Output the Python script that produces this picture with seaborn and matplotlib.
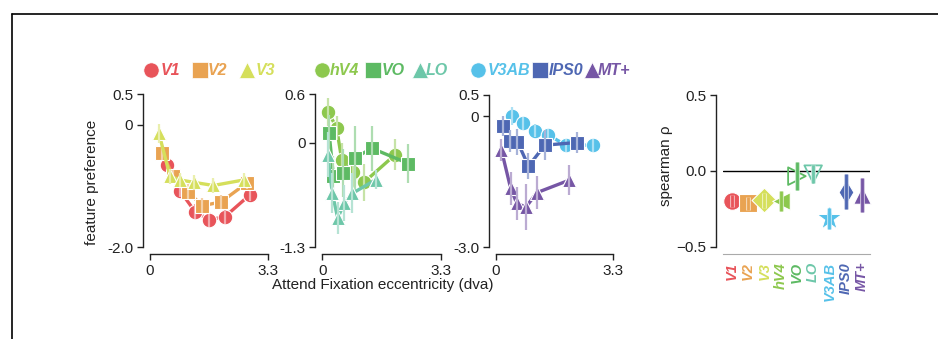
import numpy as np
import pandas as pd
import matplotlib
matplotlib.use("Agg")
import matplotlib.pyplot as plt
import matplotlib.patheffects as pe
import matplotlib.colors as mcolors
import seaborn as sns

# ---------------- data ----------------
colors = {"V1": "#E8545A", "V2": "#E9A352", "V3": "#D5DF5B",
          "hV4": "#8DC84E", "VO": "#5DBA63", "LO": "#6DC7A9",
          "V3AB": "#56C1E9", "IPS0": "#4E67B3", "MT+": "#7656A5"}

# panel 1
V1_x = [0.47, 0.84, 1.26, 1.65, 2.09, 2.79]
V1_y = [-0.65, -1.08, -1.42, -1.55, -1.50, -1.14]
V1_e = [0.08, 0.10, 0.12, 0.12, 0.12, 0.10]
V2_x = [0.34, 0.65, 1.05, 1.46, 1.98, 2.70]
V2_y = [-0.46, -0.84, -1.09, -1.32, -1.26, -0.95]
V2_e = [0.12, 0.10, 0.12, 0.12, 0.12, 0.10]
V3_x = [0.25, 0.56, 0.84, 1.24, 1.77, 2.61]
V3_y = [-0.14, -0.84, -0.90, -0.94, -0.99, -0.90]
V3_e = [0.15, 0.12, 0.12, 0.12, 0.12, 0.12]

# panel 2
hV4_x = [0.17, 0.40, 0.54, 0.86, 1.17, 2.03]
hV4_y = [0.38, 0.18, -0.21, -0.37, -0.49, -0.15]
hV4_e = [0.18, 0.15, 0.20, 0.20, 0.23, 0.19]
VO_x = [0.19, 0.31, 0.59, 0.91, 1.38, 2.40]
VO_y = [0.12, -0.42, -0.38, -0.19, -0.07, -0.26]
VO_e = [0.22, 0.25, 0.30, 0.40, 0.28, 0.24]
LO_x = [0.15, 0.28, 0.43, 0.61, 0.84, 1.49]
LO_y = [-0.15, -0.63, -0.94, -0.75, -0.63, -0.46]
LO_e = [0.28, 0.25, 0.20, 0.22, 0.25, 0.12]

# panel 3
V3AB_x = [0.45, 0.78, 1.10, 1.48, 1.97, 2.72]
V3AB_y = [0.01, -0.16, -0.33, -0.43, -0.66, -0.66]
V3AB_e = [0.20, 0.15, 0.15, 0.15, 0.15, 0.15]
IPS0_x = [0.20, 0.40, 0.61, 0.92, 1.38, 2.27]
IPS0_y = [-0.22, -0.56, -0.58, -1.14, -0.66, -0.60]
IPS0_e = [0.22, 0.25, 0.30, 0.30, 0.35, 0.25]
MT_x = [0.16, 0.42, 0.59, 0.85, 1.15, 2.07]
MT_y = [-0.77, -1.65, -1.99, -2.08, -1.75, -1.46]
MT_e = [0.25, 0.38, 0.38, 0.52, 0.38, 0.34]

# right panel
regions = ["V1", "V2", "V3", "hV4", "VO", "LO", "V3AB", "IPS0", "MT+"]
rho = [-0.198, -0.215, -0.193, -0.20, -0.035, -0.022, -0.314, -0.138, -0.16]
rho_err = [0.04, 0.04, 0.05, 0.066, 0.093, 0.06, 0.07, 0.115, 0.11]
rho_markers = ["o", "s", "D", "<", ">", "v", "*", "d", "^"]
rho_open = [False, False, False, False, True, True, False, False, False]

panel_ylims = [(-2.0, 0.5), (-1.3, 0.6), (-3.0, 0.5)]
panel_yticks = [[0.5, 0, -2.0], [0.6, 0, -1.3], [0.5, 0, -3.0]]
panel_yticklabels = [["0.5", "0", "-2.0"], ["0.6", "0", "-1.3"], ["0.5", "0", "-3.0"]]

# ---------------- style ----------------
sns.set_style("ticks")
plt.rcParams["font.family"] = ["Liberation Sans", "DejaVu Sans"]
plt.rcParams["axes.edgecolor"] = "#222222"
plt.rcParams["axes.linewidth"] = 1.0
plt.rcParams["xtick.color"] = "#222222"
plt.rcParams["ytick.color"] = "#222222"
plt.rcParams["text.color"] = "#222222"

W, H = 938, 339
fig = plt.figure(figsize=(W / 100, H / 100), dpi=100)


def rect(l, t, r, b):
    return [l / W, 1 - b / H, (r - l) / W, (b - t) / H]


def lighten(c, t=0.5):
    r, g, b = mcolors.to_rgb(c)
    return (r + (1 - r) * t, g + (1 - g) * t, b + (1 - b) * t)


panels = [
    [("V1", V1_x, V1_y, V1_e, "o"), ("V2", V2_x, V2_y, V2_e, "s"), ("V3", V3_x, V3_y, V3_e, "^")],
    [("hV4", hV4_x, hV4_y, hV4_e, "o"), ("VO", VO_x, VO_y, VO_e, "s"), ("LO", LO_x, LO_y, LO_e, "^")],
    [("V3AB", V3AB_x, V3AB_y, V3AB_e, "o"), ("IPS0", IPS0_x, IPS0_y, IPS0_e, "s"), ("MT+", MT_x, MT_y, MT_e, "^")],
]
rects = [rect(150, 94.3, 268.3, 247.3), rect(322.3, 94.3, 440.7, 247.3), rect(495.7, 94.5, 613.3, 247.3)]

for p, (series, rc) in enumerate(zip(panels, rects)):
    ax = fig.add_axes(rc)
    for i, (name, x, y, e, m) in enumerate(series):
        z = 3 + 3 * i
        df = pd.DataFrame({"ecc": x, "pref": y})
        sns.lineplot(data=df, x="ecc", y="pref", ax=ax, color=colors[name],
                     marker=m, markersize=10.5, markeredgecolor="white",
                     markeredgewidth=0.8, linewidth=2.4, sort=False,
                     estimator=None, errorbar=None, zorder=z, clip_on=False,
                     legend=False)
        xa, ya, ea = np.array(x), np.array(y), np.array(e)
        ax.vlines(xa, ya - ea, ya + ea, color=lighten(colors[name], 0.5),
                  lw=1.6, zorder=z + 1, clip_on=False)
    sns.despine(ax=ax, offset=5)
    ax.set_xlim(0, 3.3)
    ax.set_xticks([0, 3.3])
    ax.set_xticklabels(["0", "3.3"])
    ax.set_ylim(*panel_ylims[p])
    ax.set_yticks(panel_yticks[p])
    ax.set_yticklabels(panel_yticklabels[p])
    ax.set_xlabel("")
    ax.set_ylabel("")
    ax.tick_params(labelsize=11, length=4, width=1, pad=3)

# right panel
axr = fig.add_axes(rect(723, 95, 870, 246.7))
axr.axhline(0, color="black", lw=1.0, zorder=1)
for i, r in enumerate(regions):
    c = colors[r]
    if rho_open[i]:
        sns.scatterplot(x=[i], y=[rho[i]], ax=axr, marker=rho_markers[i], s=160,
                        facecolor="none", edgecolor=c, linewidth=1.3,
                        zorder=3, clip_on=False, legend=False)
    else:
        sz = 360 if rho_markers[i] == "*" else 160
        sns.scatterplot(x=[i], y=[rho[i]], ax=axr, marker=rho_markers[i], s=sz,
                        color=c, edgecolor="white", linewidth=0.8,
                        zorder=3, clip_on=False, legend=False)
    axr.plot([i, i], [rho[i] - rho_err[i], rho[i] + rho_err[i]], color=c, lw=2.0,
             zorder=4, solid_capstyle="butt",
             path_effects=[pe.Stroke(linewidth=3.4, foreground=lighten(c, 0.65)), pe.Normal()])
sns.despine(ax=axr, offset=5)
axr.spines["bottom"].set_color("#aaaaaa")
axr.spines["bottom"].set_linewidth(0.8)
axr.set_xlim(-0.55, 8.5)
axr.set_ylim(-0.5, 0.5)
axr.set_yticks([0.5, 0.0, -0.5])
axr.set_yticklabels(["0.5", "0.0", "\u22120.5"])
axr.set_xticks(range(len(regions)))
axr.set_xticklabels(regions, rotation=90, fontsize=10.5, fontweight="bold", fontstyle="italic")
for lab, r in zip(axr.get_xticklabels(), regions):
    lab.set_color(colors[r])
axr.set_xlabel("")
axr.set_ylabel("")
axr.tick_params(axis="y", labelsize=11, length=4, width=1, pad=3)
axr.tick_params(axis="x", length=0, pad=6)

# overlay for legend, labels, frame
ov = fig.add_axes([0, 0, 1, 1], zorder=-1)
ov.set_xlim(0, W)
ov.set_ylim(H, 0)
ov.axis("off")
ov.plot([12, W], [14, 14], color="black", lw=1.2)
ov.plot([12, 12], [14, H], color="black", lw=1.2)

leg_items = [("V1", "o", 151, 161), ("V2", "s", 200, 208), ("V3", "^", 247, 256),
             ("hV4", "o", 322, 330), ("VO", "s", 373, 382), ("LO", "^", 420, 426),
             ("V3AB", "o", 478, 488), ("IPS0", "s", 540, 549), ("MT+", "^", 592, 598)]
for name, m, mx, tx in leg_items:
    ov.plot([mx], [70], marker=m, markersize=11, color=colors[name],
            markeredgecolor="white", markeredgewidth=0.5, linestyle="none")
    ov.text(tx, 70.5, name, color=colors[name], fontsize=11.5, fontweight="bold",
            fontstyle="italic", ha="left", va="center")

ov.text(92, 182, "feature preference", rotation=90, ha="center", va="center", fontsize=11)
ov.text(666, 166, "spearman \u03c1", rotation=90, ha="center", va="center", fontsize=11)
ov.text(383, 285, "Attend Fixation eccentricity (dva)", ha="center", va="center", fontsize=11)

fig.savefig("out.png", dpi=100)
